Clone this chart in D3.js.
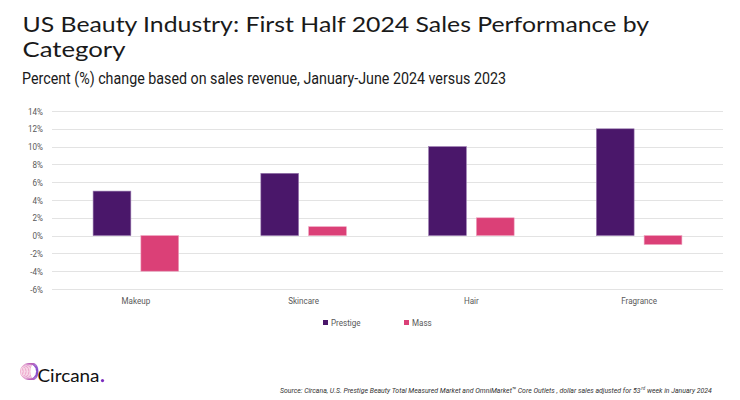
<!DOCTYPE html>
<html>
<head>
<meta charset="utf-8">
<script src="https://cdn.jsdelivr.net/npm/d3@7"></script>
<style>
  html, body { margin: 0; padding: 0; background: #fff; }
  svg { display: block; }
</style>
</head>
<body>
<svg id="chart" width="740" height="400"></svg>
<script>
const categories = ["Makeup", "Skincare", "Hair", "Fragrance"];
const seriesNames = ["Prestige", "Mass"];
const prestigeValues = [5, 7, 10, 12];
const massValues = [-4, 1, 2, -1];
const yTicks = [-6, -4, -2, 0, 2, 4, 6, 8, 10, 12, 14];
const titleLines = ["US Beauty Industry: First Half 2024 Sales Performance by", "Category"];
const subtitle = "Percent (%) change based on sales revenue, January-June 2024 versus 2023";
const sourceParts = ["Source: Circana, U.S. Prestige Beauty Total Measured Market and OmniMarket\u2122 Core Outlets , dollar sales adjusted for 53", "rd", "week in January 2024"];

const colors = { Prestige: "#4a176a", Mass: "#db4077" };
const svg = d3.select("#chart");

function squash(sel, factor, target) {
  sel.each(function() {
    const w = this.getComputedTextLength();
    const t = target != null ? target : w * factor;
    d3.select(this).attr("textLength", t).attr("lengthAdjust", "spacingAndGlyphs");
  });
}

// Title
const titleFont = "Lato, 'Open Sans', sans-serif";
svg.append("text").attr("x", 22.5).attr("y", 32)
  .style("font-family", titleFont).style("font-size", "21px").style("fill", "#1a1a1a")
  .text(titleLines[0]).call(squash, 1, 626.5);
svg.append("text").attr("x", 22.5).attr("y", 57)
  .style("font-family", titleFont).style("font-size", "21px").style("fill", "#1a1a1a")
  .text(titleLines[1]).call(squash, 1, 103);
svg.append("text").attr("x", 22).attr("y", 84)
  .style("font-family", "Roboto, sans-serif").style("font-size", "17px").style("fill", "#1a1a1a")
  .text(subtitle).call(squash, 1, 484);

// Scales
const x0 = d3.scaleBand().domain(categories).range([52, 723]).padding(0);
const x1 = d3.scaleBand().domain(seriesNames).range([0, x0.bandwidth()])
  .paddingInner(0.21).paddingOuter(0.86);
const y = d3.scaleLinear().domain([-6, 14]).range([289, 111]);

// Gridlines
svg.append("g").selectAll("line").data(yTicks).join("line")
  .attr("x1", 52).attr("x2", 723)
  .attr("y1", d => Math.round(y(d)) + 0.5).attr("y2", d => Math.round(y(d)) + 0.5)
  .attr("stroke", "#e3e3e3").attr("stroke-width", 1);

// Y axis labels
const yAxis = d3.axisLeft(y).tickValues(yTicks).tickFormat(d => d + "%").tickSize(0).tickPadding(0);
const yg = svg.append("g").attr("transform", "translate(43,0)").call(yAxis);
yg.select(".domain").remove();
yg.selectAll("text").style("font-family", "Roboto, sans-serif").style("font-size", "9.5px")
  .style("fill", "#595959").call(squash, 0.85);

// Bars
const rows = categories.map((c, i) => ({ cat: c, vals: [
  { s: "Prestige", v: prestigeValues[i] }, { s: "Mass", v: massValues[i] } ] }));
const groups = svg.append("g").selectAll("g").data(rows).join("g")
  .attr("transform", d => `translate(${x0(d.cat)},0)`);
groups.selectAll("rect").data(d => d.vals).join("rect")
  .attr("x", d => x1(d.s))
  .attr("width", x1.bandwidth())
  .attr("y", d => y(Math.max(0, d.v)))
  .attr("height", d => Math.abs(y(d.v) - y(0)))
  .attr("fill", d => colors[d.s])
  .attr("stroke", d => d.s === "Prestige" ? "#9a7ab0" : "#eea0bd")
  .attr("stroke-width", 0.6);

// X axis labels
const xAxis = d3.axisBottom(x0).tickSize(0).tickPadding(0);
const xg = svg.append("g").attr("transform", "translate(0,297)").call(xAxis);
xg.select(".domain").remove();
xg.selectAll("text").style("font-family", "Roboto, sans-serif").style("font-size", "9.5px")
  .style("fill", "#595959").attr("dy", "0.71em").call(squash, 0.85);

// Legend
const legendPos = { Prestige: 323, Mass: 404 };
const lg = svg.append("g");
seriesNames.forEach(s => {
  lg.append("rect").attr("x", legendPos[s]).attr("y", 320).attr("width", 5).attr("height", 5)
    .attr("fill", colors[s]);
  lg.append("text").attr("x", legendPos[s] + 8).attr("y", 326)
    .style("font-family", "Roboto, sans-serif").style("font-size", "9.5px").style("fill", "#595959")
    .text(s).call(squash, 0.85);
});

// Source (three pieces laid out in sequence, then condensed via group scale)
const srcG = svg.append("g");
const srcStyle = s => s.style("font-family", "Roboto, sans-serif").style("font-style", "italic").style("fill", "#333");
const p1 = srcG.append("text").attr("x", 0).attr("y", 0).style("font-size", "8px").call(srcStyle).text(sourceParts[0]);
const w1 = p1.node().getComputedTextLength();
const p2 = srcG.append("text").attr("x", w1 + 0.3).attr("y", -3).style("font-size", "5px").call(srcStyle).text(sourceParts[1]);
const w2 = p2.node().getComputedTextLength();
const gap = 2.2;
const p3 = srcG.append("text").attr("x", w1 + w2 + 0.3 + gap).attr("y", 0).style("font-size", "8px").call(srcStyle).text(sourceParts[2]);
const w3 = p3.node().getComputedTextLength();
const totalW = w1 + w2 + w3 + 0.3 + gap;
srcG.attr("transform", `translate(280,393) scale(${432 / totalW},1)`);

// Logo
const defs = svg.append("defs");
const grad = defs.append("linearGradient").attr("id", "lg1").attr("x1", "0").attr("x2", "1");
grad.append("stop").attr("offset", "0").attr("stop-color", "#e36aa6");
grad.append("stop").attr("offset", "1").attr("stop-color", "#7a3cc8");
const logo = svg.append("g");
d3.range(7).forEach(i => {
  logo.append("ellipse").attr("cx", 28.5 + i * 0.9).attr("cy", 371.5)
    .attr("rx", 8 - i * 0.65).attr("ry", 8)
    .attr("fill", "none").attr("stroke", "url(#lg1)").attr("stroke-width", 0.6);
});
svg.append("text").attr("x", 37.5).attr("y", 382)
  .style("font-family", titleFont).style("font-size", "17px").style("fill", "#111")
  .text("Circana").call(squash, 1, 62);
svg.append("circle").attr("cx", 102.5).attr("cy", 380.6).attr("r", 1.6).attr("fill", "#7b2cbf");
</script>
</body>
</html>
